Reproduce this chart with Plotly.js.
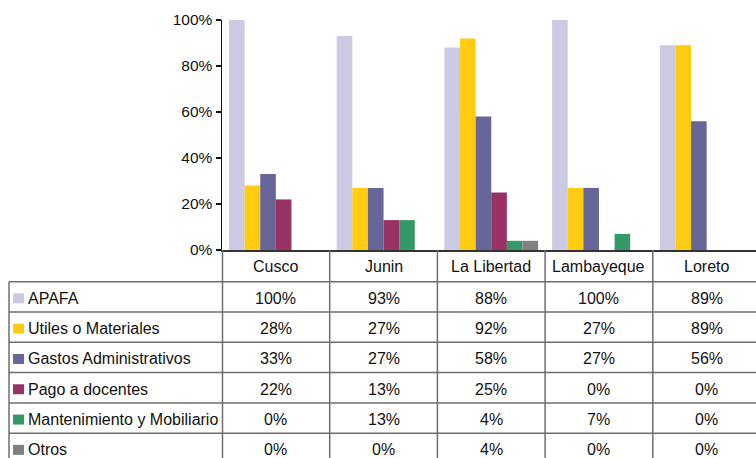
<!DOCTYPE html>
<html>
<head>
<meta charset="utf-8">
<script src="https://cdn.plot.ly/plotly-3.0.1.min.js"></script>
<style>html,body{margin:0;padding:0;background:#fff;}#chart{width:756px;height:458px;}</style>
</head>
<body>
<div id="chart"></div>
<script>
const categories = ["Cusco", "Junin", "La Libertad", "Lambayeque", "Loreto"];
const seriesNames = ["APAFA", "Utiles o Materiales", "Gastos Administrativos", "Pago a docentes", "Mantenimiento y Mobiliario", "Otros"];
const apafa = [1.00, 0.93, 0.88, 1.00, 0.89];
const utiles = [0.28, 0.27, 0.92, 0.27, 0.89];
const gastos = [0.33, 0.27, 0.58, 0.27, 0.56];
const pago = [0.22, 0.13, 0.25, 0.00, 0.00];
const mantenimiento = [0.00, 0.13, 0.04, 0.07, 0.00];
const otros = [0.00, 0.00, 0.04, 0.00, 0.00];
const seriesValues = [apafa, utiles, gastos, pago, mantenimiento, otros];
const colors = ["#CBCAE2", "#FFCC11", "#666699", "#993366", "#339966", "#808080"];
const yTickVals = [0, 0.2, 0.4, 0.6, 0.8, 1.0];
const yTickText = ["0%", "20%", "40%", "60%", "80%", "100%"];

const W = 756, H = 458;
const px = v => v / W;
const py = v => 1 - v / H;

const font = {family: "Arial", size: 16, color: "#111"};
const tickFont = {family: "Arial", size: 15.5, color: "#111"};

const traces = seriesValues.map((vals, i) => ({
  type: "bar",
  name: seriesNames[i],
  x: categories,
  y: vals,
  marker: {color: colors[i], line: {width: 0}},
  hoverinfo: "skip"
}));

const shapes = [];
const annotations = [];
const gridColor = "#6e6e6e";
const rowTop0 = 281.7, rowH = 30.3, headerTop = 250;

for (let i = 0; i < seriesNames.length; i++) {
  const y = rowTop0 + rowH * i;
  shapes.push({type: "line", xref: "paper", yref: "paper", x0: px(9), x1: 1, y0: py(y), y1: py(y), line: {color: gridColor, width: 1.5}});
}
shapes.push({type: "line", xref: "paper", yref: "paper", x0: px(9), x1: px(9), y0: py(rowTop0), y1: 0, line: {color: gridColor, width: 1.5}});
shapes.push({type: "line", xref: "paper", yref: "paper", x0: px(222.5), x1: px(222.5), y0: py(headerTop), y1: 0, line: {color: gridColor, width: 1.5}});
for (let c = 1; c < categories.length; c++) {
  shapes.push({type: "line", xref: "x", yref: "paper", x0: c - 0.5, x1: c - 0.5, y0: py(headerTop), y1: 0, line: {color: gridColor, width: 1.5}});
}
categories.forEach((c, j) => {
  annotations.push({xref: "x", yref: "paper", x: j, y: py(266), text: c, showarrow: false, font: font, xanchor: "center", yanchor: "middle"});
});
seriesNames.forEach((name, i) => {
  const cy = rowTop0 + rowH * i + rowH / 2 + 1.5;
  shapes.push({type: "rect", xref: "paper", yref: "paper", x0: px(13), x1: px(24), y0: py(cy - 5), y1: py(cy + 5), fillcolor: colors[i], line: {width: 0}});
  annotations.push({xref: "paper", yref: "paper", x: px(26), y: py(cy), text: name, showarrow: false, font: font, xanchor: "left", yanchor: "middle"});
  seriesValues[i].forEach((v, j) => {
    annotations.push({xref: "x", yref: "paper", x: j, y: py(cy), text: Math.round(v * 100) + "%", showarrow: false, font: font, xanchor: "center", yanchor: "middle"});
  });
});

const layout = {
  width: W, height: H,
  margin: {l: 0, r: 0, t: 0, b: 0},
  paper_bgcolor: "#fff", plot_bgcolor: "#fff",
  showlegend: false,
  barmode: "group",
  bargap: 0.13,
  bargroupgap: 0,
  font: font,
  xaxis: {
    domain: [px(222), 1],
    range: [-0.5, 4.458],
    showticklabels: false,
    ticks: "",
    showgrid: false,
    zeroline: false,
    showline: true,
    linecolor: "#333",
    linewidth: 2,
    fixedrange: true
  },
  yaxis: {
    domain: [py(250), py(20)],
    range: [0, 1],
    tickvals: yTickVals,
    ticktext: yTickText,
    ticks: "outside",
    ticklen: 5,
    tickcolor: "#111",
    tickwidth: 1.5,
    tickfont: tickFont,
    showgrid: false,
    zeroline: false,
    showline: true,
    linecolor: "#111",
    linewidth: 1.5,
    fixedrange: true
  },
  shapes: shapes,
  annotations: annotations
};

Plotly.newPlot("chart", traces, layout, {displayModeBar: false, staticPlot: true});
</script>
</body>
</html>
